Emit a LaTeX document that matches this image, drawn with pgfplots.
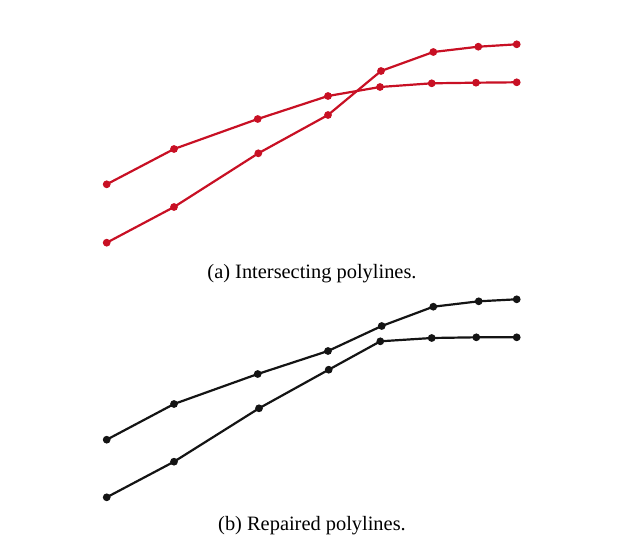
\documentclass[border=0pt]{standalone}
\usepackage{pgfplots}
\pgfplotsset{compat=1.18}
\usepackage{fontspec}
\setmainfont{Liberation Serif}
\definecolor{lred}{RGB}{200,16,36}
\definecolor{lblack}{RGB}{20,20,20}
\begin{document}
\begin{tikzpicture}
\path[use as bounding box] (0,0) rectangle (320pt,273.5pt);
\begin{axis}[at={(0,0)},anchor=south west,
  scale only axis, width=320pt, height=273.5pt,
  xmin=0, xmax=640, ymin=0, ymax=547,
  hide axis, clip=false]
\addplot[lred, line width=1.1pt, mark=*, mark size=1.35pt] coordinates {
(106.7,362.7) (174,398) (257.7,428) (328,451) (380,460) (431.7,463.7) (476,464.3) (516.7,464.7)};
\addplot[lred, line width=1.1pt, mark=*, mark size=1.35pt] coordinates {
(106.7,304.3) (174,340) (258.3,393.7) (328,432) (381,476) (433.3,495) (478.3,500.3) (516.7,502.7)};
\addplot[lblack, line width=1.1pt, mark=*, mark size=1.35pt] coordinates {
(106.7,107.3) (174,143) (257.7,173) (328,196) (381.7,221) (433.3,240.3) (478.7,245.7) (516.7,247.7)};
\addplot[lblack, line width=1.1pt, mark=*, mark size=1.35pt] coordinates {
(106.7,49.7) (174,85.3) (259,138.7) (328.7,177.3) (380.3,205.7) (431.7,209) (476.3,209.7) (516.7,209.7)};
\node[font=\fontsize{10.2}{12}\selectfont, inner sep=0pt] at (axis cs:312,273.5) {(a) Intersecting polylines.};
\node[font=\fontsize{10.2}{12}\selectfont, inner sep=0pt] at (axis cs:312,21.5) {(b) Repaired polylines.};
\end{axis}
\end{tikzpicture}
\end{document}
